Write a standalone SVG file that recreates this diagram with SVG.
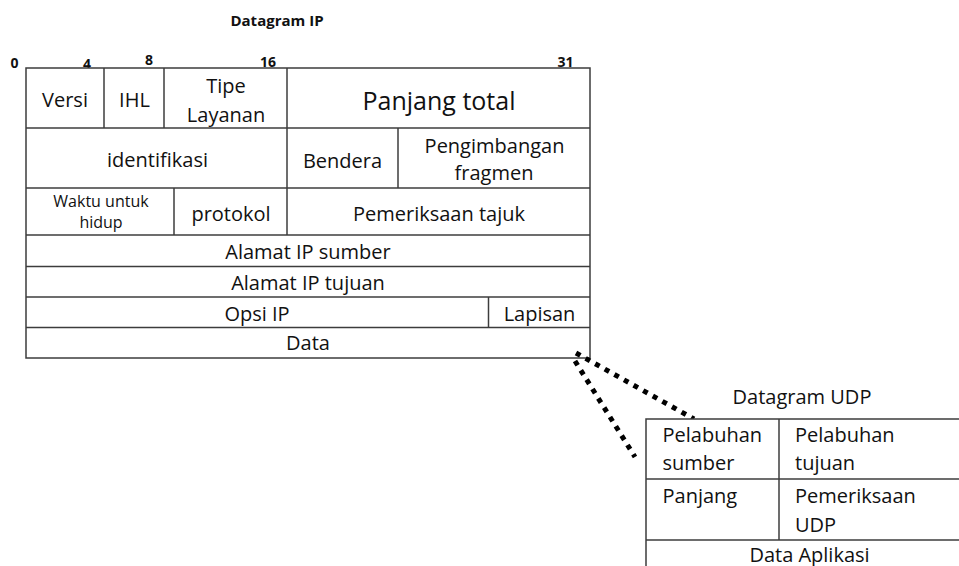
<svg xmlns="http://www.w3.org/2000/svg" width="959" height="566" viewBox="0 0 959 566">
<style>
  .box{fill:#fff;stroke:#3c3c3c;stroke-width:1.5}
  .ln{stroke:#3c3c3c;stroke-width:1.5;fill:none}
  text{font-family:"Open Sans","Noto Sans","Liberation Sans",sans-serif;fill:#111}
  .t{font-size:20px;text-anchor:middle}
  .tl{font-size:20px;text-anchor:start}
  .big{font-size:25px;text-anchor:middle}
  .sm{font-size:16px;text-anchor:middle}
  .b{font-size:14px;font-weight:bold;text-anchor:middle}
  .title{font-size:15px;font-weight:bold;text-anchor:middle}
  .dots{stroke:#000;stroke-width:5;stroke-dasharray:5 6;fill:none}
</style>
<rect width="959" height="566" fill="#fff"/>

<g id="ip-title">
  <text class="title" x="277" y="26">Datagram IP</text>
</g>
<g id="bit-labels">
  <text class="b" x="14.5" y="68">0</text>
  <text class="b" x="87" y="69">4</text>
  <text class="b" x="149" y="65">8</text>
  <text class="b" x="268" y="66.5">16</text>
  <text class="b" x="565.5" y="66.5">31</text>
</g>

<g id="ip-datagram">
  <rect class="box" x="26" y="68" width="564" height="290"/>
  <g id="row-lines">
    <line class="ln" x1="26" y1="128" x2="590" y2="128"/>
    <line class="ln" x1="26" y1="188" x2="590" y2="188"/>
    <line class="ln" x1="26" y1="235" x2="590" y2="235"/>
    <line class="ln" x1="26" y1="266.5" x2="590" y2="266.5"/>
    <line class="ln" x1="26" y1="297" x2="590" y2="297"/>
    <line class="ln" x1="26" y1="327.5" x2="590" y2="327.5"/>
  </g>
  <g id="versi">
    <line class="ln" x1="104" y1="68" x2="104" y2="128"/>
    <text class="t" x="65" y="106.5">Versi</text>
  </g>
  <g id="ihl">
    <line class="ln" x1="164" y1="68" x2="164" y2="128"/>
    <text class="t" x="134.5" y="106.5">IHL</text>
  </g>
  <g id="tipe-layanan">
    <line class="ln" x1="287" y1="68" x2="287" y2="128"/>
    <text class="t" x="226" y="93">Tipe</text>
    <text class="t" x="226" y="121.5">Layanan</text>
  </g>
  <g id="panjang-total">
    <text class="big" x="439" y="109.5">Panjang total</text>
  </g>
  <g id="identifikasi">
    <line class="ln" x1="287" y1="128" x2="287" y2="188"/>
    <text class="t" x="157.5" y="166.5">identifikasi</text>
  </g>
  <g id="bendera">
    <line class="ln" x1="398" y1="128" x2="398" y2="188"/>
    <text class="t" x="342.5" y="167.5">Bendera</text>
  </g>
  <g id="pengimbangan-fragmen">
    <text class="t" x="494.5" y="152.5">Pengimbangan</text>
    <text class="t" x="494" y="180">fragmen</text>
  </g>
  <g id="waktu-hidup">
    <line class="ln" x1="174" y1="188" x2="174" y2="235"/>
    <text class="sm" x="101" y="206.5">Waktu untuk</text>
    <text class="sm" x="101" y="228">hidup</text>
  </g>
  <g id="protokol">
    <line class="ln" x1="287" y1="188" x2="287" y2="235"/>
    <text class="t" x="231" y="221">protokol</text>
  </g>
  <g id="pemeriksaan-tajuk">
    <text class="t" x="439" y="221">Pemeriksaan tajuk</text>
  </g>
  <g id="alamat-sumber">
    <text class="t" x="308" y="259">Alamat IP sumber</text>
  </g>
  <g id="alamat-tujuan">
    <text class="t" x="308" y="290">Alamat IP tujuan</text>
  </g>
  <g id="opsi-ip">
    <line class="ln" x1="488.5" y1="297" x2="488.5" y2="327.5"/>
    <text class="t" x="257" y="320.5">Opsi IP</text>
  </g>
  <g id="lapisan">
    <text class="t" x="539.5" y="320.5">Lapisan</text>
  </g>
  <g id="data">
    <text class="t" x="308" y="350">Data</text>
  </g>
</g>

<g id="connectors">
  <line class="dots" x1="575" y1="361" x2="635" y2="457"/>
  <line class="dots" x1="576" y1="353" x2="694" y2="419"/>
</g>

<g id="udp-title">
  <text class="t" x="802" y="404">Datagram UDP</text>
</g>
<g id="udp-datagram">
  <rect class="box" x="646" y="419" width="330" height="160"/>
  <line class="ln" x1="646" y1="479" x2="959" y2="479"/>
  <line class="ln" x1="646" y1="540" x2="959" y2="540"/>
  <line class="ln" x1="779" y1="419" x2="779" y2="540"/>
  <g id="pelabuhan-sumber">
    <text class="tl" x="662.5" y="442">Pelabuhan</text>
    <text class="tl" x="662.5" y="470">sumber</text>
  </g>
  <g id="pelabuhan-tujuan">
    <text class="tl" x="795" y="442">Pelabuhan</text>
    <text class="tl" x="795" y="470">tujuan</text>
  </g>
  <g id="panjang">
    <text class="tl" x="662.5" y="503">Panjang</text>
  </g>
  <g id="pemeriksaan-udp">
    <text class="tl" x="795" y="503">Pemeriksaan</text>
    <text class="tl" x="795" y="531.5">UDP</text>
  </g>
  <g id="data-aplikasi">
    <text class="t" x="809.5" y="561.5">Data Aplikasi</text>
  </g>
</g>
</svg>
